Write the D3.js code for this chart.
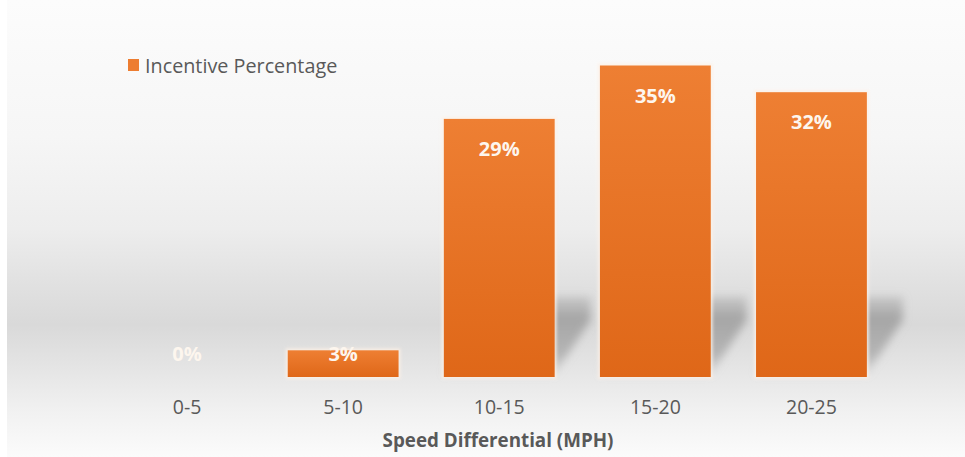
<!DOCTYPE html>
<html>
<head>
<meta charset="utf-8">
<script src="https://cdn.jsdelivr.net/npm/d3@7"></script>
<style>
  html, body { margin: 0; padding: 0; background: #ffffff; }
  svg { display: block; }
</style>
</head>
<body>
<svg id="chart" width="965" height="457"></svg>
<script>
// Speed differential buckets and incentive share (%)
const categories = ["0-5", "5-10", "10-15", "15-20", "20-25"];
const incentive = [0, 3, 29, 35, 32];
const seriesName = "Incentive Percentage";
const axisTitle = "Speed Differential (MPH)";

const W = 965, H = 457;
const FONT = "'Open Sans', 'Noto Sans', sans-serif";
const svg = d3.select("#chart");
const defs = svg.append("defs");

// Panel background: soft grey band behind the lower part of the plot
const bg = defs.append("linearGradient").attr("id", "bgGrad")
  .attr("x1", 0).attr("y1", 0).attr("x2", 0).attr("y2", 1);
[[0, "#fcfcfc"], [0.3, "#f6f6f6"], [0.5, "#ededed"], [0.62, "#e1e1e1"],
 [0.71, "#d9d9d9"], [0.8, "#e4e4e4"], [0.9, "#f1f1f1"], [1, "#fbfbfb"]]
  .forEach(([o, c]) => bg.append("stop").attr("offset", o).attr("stop-color", c));

// Bar fill: slightly darker toward the baseline
const barGrad = defs.append("linearGradient").attr("id", "barGrad")
  .attr("x1", 0).attr("y1", 0).attr("x2", 0).attr("y2", 1);
barGrad.append("stop").attr("offset", 0).attr("stop-color", "#ee7f33");
barGrad.append("stop").attr("offset", 1).attr("stop-color", "#df6718");

// Cast shadow: fades in from the top, blurred
const shGrad = defs.append("linearGradient").attr("id", "shGrad")
  .attr("gradientUnits", "userSpaceOnUse")
  .attr("x1", 0).attr("y1", 285).attr("x2", 0).attr("y2", 378);
shGrad.append("stop").attr("offset", 0).attr("stop-color", "#9a9a9a").attr("stop-opacity", 0);
shGrad.append("stop").attr("offset", 0.35).attr("stop-color", "#999999").attr("stop-opacity", 0.8);
shGrad.append("stop").attr("offset", 0.75).attr("stop-color", "#a2a2a2").attr("stop-opacity", 0.7);
shGrad.append("stop").attr("offset", 1).attr("stop-color", "#b8b8b8").attr("stop-opacity", 0.2);
defs.append("filter").attr("id", "blurSh")
  .attr("x", "-30%").attr("y", "-30%").attr("width", "160%").attr("height", "160%")
  .append("feGaussianBlur").attr("stdDeviation", 4.5);
defs.append("filter").attr("id", "glow")
  .attr("x", "-20%").attr("y", "-20%").attr("width", "140%").attr("height", "140%")
  .append("feGaussianBlur").attr("stdDeviation", 1.5);

svg.append("rect").attr("x", 7).attr("y", 0).attr("width", W - 7).attr("height", H)
  .attr("fill", "url(#bgGrad)");

// Scales
const x = d3.scaleBand().domain(categories).range([109, 889.5]).paddingInner(0.29).paddingOuter(0.145);
const y = d3.scaleLinear().domain([0, 40]).range([377, 21]);

const data = categories.map((c, i) => ({ cat: c, v: incentive[i] }));

// Shadows behind the taller bars
const shadowTop = 296, skew = 36;
svg.append("g").selectAll("path")
  .data(data.filter(d => y(0) - y(d.v) > 60))
  .join("path")
  .attr("d", d => {
    const x0 = x(d.cat), x1 = x0 + x.bandwidth(), yb = y(0) - 3;
    return `M${x0},${yb} L${x1},${yb} L${x1 + skew},${shadowTop + 24} L${x1 + skew},${shadowTop} L${x0 + skew},${shadowTop} Z`;
  })
  .attr("fill", "url(#shGrad)")
  .attr("filter", "url(#blurSh)");

// Light halo around bars
svg.append("g").selectAll("rect")
  .data(data.filter(d => d.v > 0))
  .join("rect")
  .attr("x", d => x(d.cat) - 2)
  .attr("y", d => y(d.v) - 2)
  .attr("width", x.bandwidth() + 4)
  .attr("height", d => y(0) - y(d.v) + 4)
  .attr("fill", "#fdf1e6")
  .attr("opacity", 0.8)
  .attr("filter", "url(#glow)");

// Bars
svg.append("g").selectAll("rect")
  .data(data)
  .join("rect")
  .attr("x", d => x(d.cat))
  .attr("y", d => y(d.v))
  .attr("width", x.bandwidth())
  .attr("height", d => y(0) - y(d.v))
  .attr("fill", "url(#barGrad)");

// Value labels inside the top of each bar
svg.append("g").selectAll("text")
  .data(data)
  .join("text")
  .attr("x", d => x(d.cat) + x.bandwidth() / 2)
  .attr("y", d => Math.min(y(d.v) + 37, y(0) - 16))
  .attr("text-anchor", "middle")
  .attr("font-family", FONT)
  .attr("font-weight", 700)
  .attr("font-size", 20)
  .attr("fill", "#fdf6ee")
  .text(d => d.v + "%");

// Category axis
const xAxis = svg.append("g").attr("transform", `translate(0,${y(0)})`)
  .call(d3.axisBottom(x).tickSize(0).tickPadding(23));
xAxis.select(".domain").remove();
xAxis.selectAll("text")
  .attr("font-family", FONT)
  .attr("font-size", 19.5)
  .attr("fill", "#595959");

svg.append("text")
  .attr("x", 498).attr("y", 447)
  .attr("text-anchor", "middle")
  .attr("font-family", FONT)
  .attr("font-weight", 700)
  .attr("font-size", 18.8)
  .attr("fill", "#595959")
  .text(axisTitle);

// Legend
const legend = svg.append("g").attr("transform", "translate(128,59)");
legend.append("rect").attr("width", 11).attr("height", 12).attr("fill", "#ed7d31");
legend.append("text")
  .attr("x", 17).attr("y", 13.5)
  .attr("font-family", FONT)
  .attr("font-size", 19.8)
  .attr("fill", "#595959")
  .text(seriesName);
</script>
</body>
</html>
